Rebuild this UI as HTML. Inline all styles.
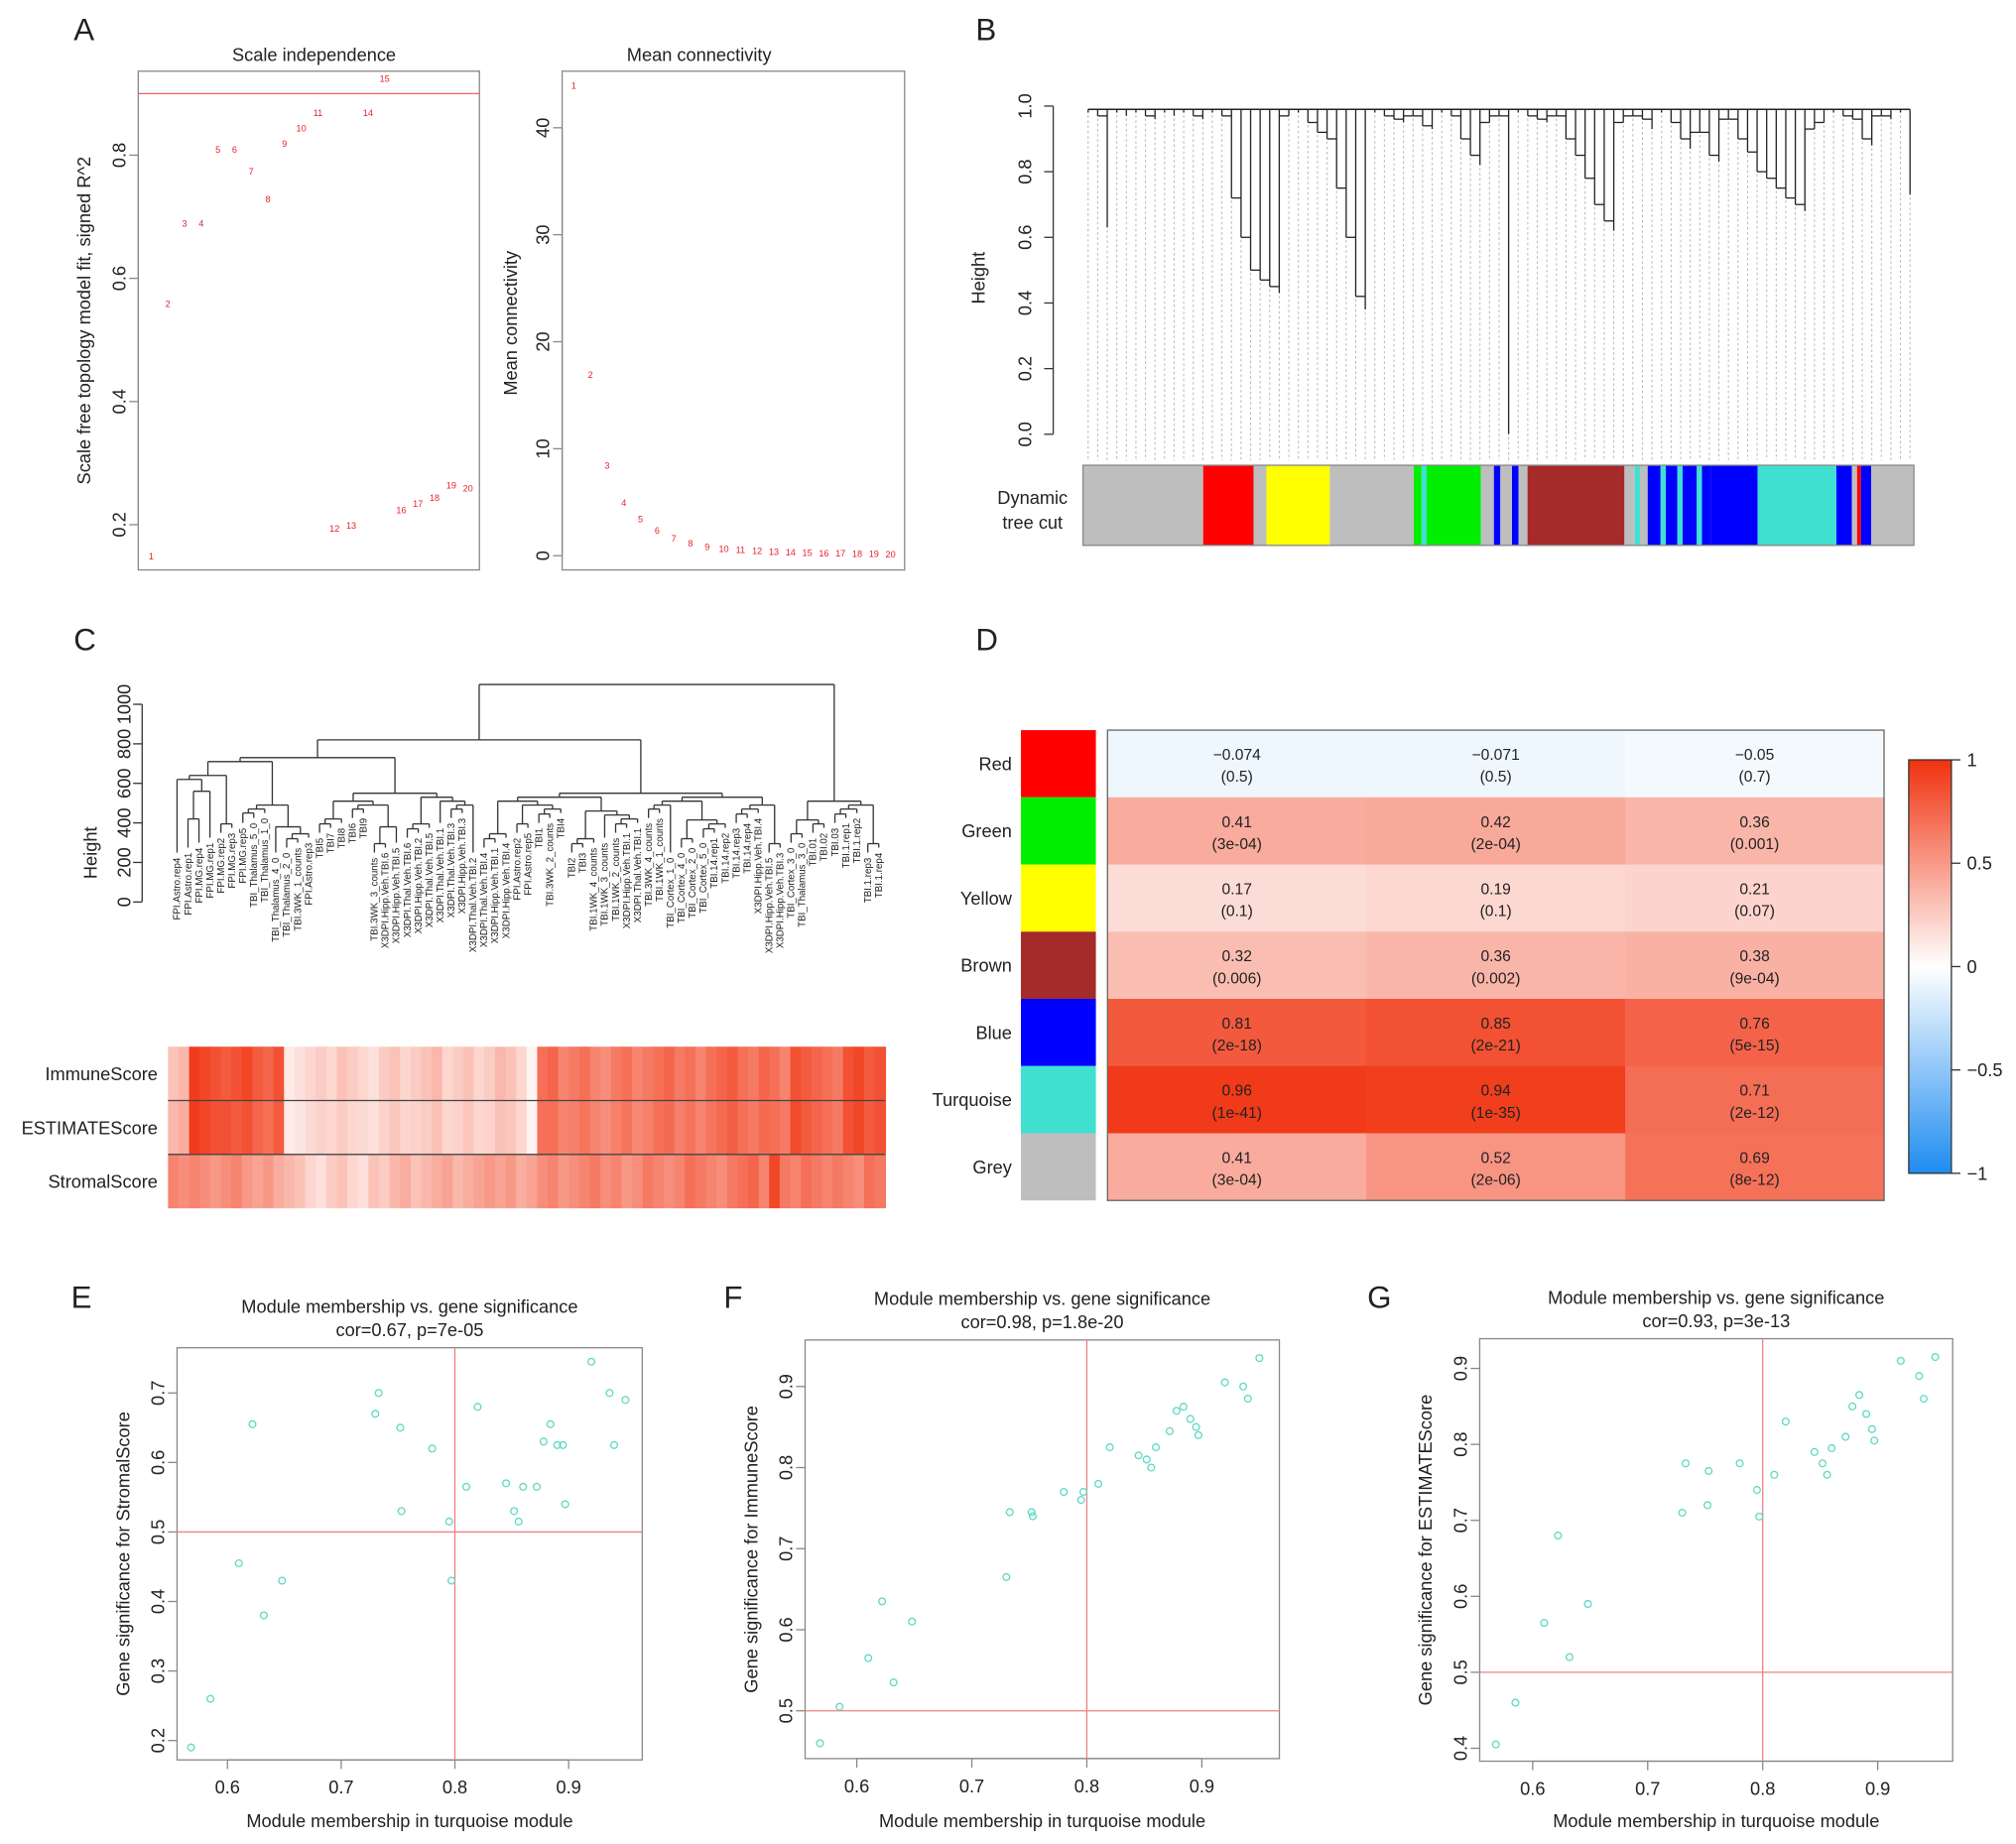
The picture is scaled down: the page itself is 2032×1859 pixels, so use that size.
<!DOCTYPE html>
<html><head><meta charset="utf-8">
<style>
html,body{margin:0;padding:0;background:#fff;}
svg{display:block;}
text{font-family:"Liberation Sans",sans-serif;fill:#222;}
</style></head>
<body>
<svg id="fig" width="2032" height="1859" viewBox="0 0 1560 1427" xmlns="http://www.w3.org/2000/svg">
<g id="root"></g>
</svg>
<script>
// ---------- DATA ----------
const powers = [1,2,3,4,5,6,7,8,9,10,11,12,13,14,15,16,17,18,19,20];
const scaleFitR2 = [0.15,0.56,0.69,0.69,0.81,0.81,0.775,0.73,0.82,0.845,0.87,0.195,0.2,0.87,0.925,0.225,0.235,0.245,0.265,0.26];
const meanConn = [44,17,8.5,5,3.5,2.4,1.7,1.2,0.9,0.7,0.6,0.5,0.45,0.4,0.35,0.3,0.3,0.25,0.25,0.2];
const scaleTicks = [0.2,0.4,0.6,0.8];
const connTicks = [0,10,20,30,40];

const moduleNames = ["Red","Green","Yellow","Brown","Blue","Turquoise","Grey"];
const moduleColors = ["#ff0000","#00ee00","#ffff00","#a52a2a","#0000ff","#40e0d0","#bebebe"];
const corImmune = [-0.074,0.41,0.17,0.32,0.81,0.96,0.41];
const corEstimate = [-0.071,0.42,0.19,0.36,0.85,0.94,0.52];
const corStromal = [-0.05,0.36,0.21,0.38,0.76,0.71,0.69];
const pImmune = ["(0.5)","(3e-04)","(0.1)","(0.006)","(2e-18)","(1e-41)","(3e-04)"];
const pEstimate = ["(0.5)","(2e-04)","(0.1)","(0.002)","(2e-21)","(1e-35)","(2e-06)"];
const pStromal = ["(0.7)","(0.001)","(0.07)","(9e-04)","(5e-15)","(2e-12)","(8e-12)"];
const legendTicks = [1,0.5,0,-0.5,-1];

const immuneRow = [0.3,0.35,0.95,0.9,0.85,0.8,0.85,0.9,0.8,0.75,0.85,0.1,0.15,0.2,0.25,0.2,0.3,0.25,0.2,0.15,0.25,0.3,0.2,0.25,0.3,0.35,0.2,0.25,0.3,0.2,0.25,0.35,0.3,0.2,0.05,0.7,0.75,0.6,0.65,0.7,0.6,0.55,0.65,0.7,0.6,0.65,0.7,0.75,0.65,0.7,0.6,0.7,0.75,0.8,0.7,0.65,0.75,0.7,0.6,0.85,0.8,0.75,0.7,0.65,0.85,0.9,0.8,0.85];
const estimateRow = [0.35,0.4,0.95,0.9,0.85,0.85,0.8,0.85,0.75,0.7,0.8,0.1,0.12,0.18,0.22,0.2,0.25,0.2,0.18,0.15,0.22,0.28,0.2,0.22,0.25,0.3,0.2,0.22,0.28,0.2,0.22,0.3,0.28,0.2,0.05,0.7,0.7,0.6,0.62,0.68,0.6,0.55,0.62,0.68,0.58,0.62,0.7,0.72,0.62,0.68,0.6,0.68,0.72,0.78,0.7,0.65,0.72,0.7,0.65,0.88,0.8,0.75,0.7,0.65,0.85,0.9,0.8,0.85];
const stromalRow = [0.6,0.55,0.6,0.55,0.5,0.55,0.6,0.5,0.45,0.5,0.4,0.35,0.3,0.2,0.15,0.25,0.3,0.2,0.15,0.3,0.25,0.35,0.4,0.3,0.35,0.4,0.45,0.35,0.4,0.45,0.5,0.45,0.5,0.4,0.45,0.55,0.6,0.5,0.55,0.6,0.65,0.55,0.6,0.5,0.55,0.65,0.6,0.55,0.6,0.7,0.65,0.6,0.55,0.65,0.7,0.75,0.6,0.9,0.65,0.6,0.7,0.65,0.6,0.65,0.6,0.55,0.7,0.65];

const membership = [0.568,0.585,0.61,0.622,0.632,0.648,0.73,0.733,0.752,0.753,0.78,0.795,0.797,0.81,0.82,0.845,0.852,0.856,0.86,0.872,0.878,0.884,0.89,0.895,0.897,0.92,0.936,0.94,0.95];
const gsStromal = [0.19,0.26,0.455,0.655,0.38,0.43,0.67,0.70,0.65,0.53,0.62,0.515,0.43,0.565,0.68,0.57,0.53,0.515,0.565,0.565,0.63,0.655,0.625,0.625,0.54,0.745,0.70,0.625,0.69];
const gsImmune = [0.46,0.505,0.565,0.635,0.535,0.61,0.665,0.745,0.745,0.74,0.77,0.76,0.77,0.78,0.825,0.815,0.81,0.80,0.825,0.845,0.87,0.875,0.86,0.85,0.84,0.905,0.90,0.885,0.935];
const gsEstimate = [0.405,0.46,0.565,0.68,0.52,0.59,0.71,0.775,0.72,0.765,0.775,0.74,0.705,0.76,0.83,0.79,0.775,0.76,0.795,0.81,0.85,0.865,0.84,0.82,0.805,0.91,0.89,0.86,0.915];

const geneLeafHeights = [0.98,0.97,0.63,0.98,0.97,0.98,0.97,0.96,0.98,0.97,0.98,0.97,0.96,0.98,0.97,0.72,0.6,0.5,0.47,0.45,0.43,0.97,0.98,0.95,0.92,0.9,0.75,0.6,0.42,0.38,0.98,0.97,0.96,0.95,0.97,0.94,0.93,0.98,0.97,0.9,0.85,0.82,0.95,0.97,0.0,0.98,0.97,0.96,0.95,0.97,0.9,0.85,0.78,0.7,0.65,0.62,0.95,0.97,0.96,0.93,0.98,0.95,0.9,0.87,0.92,0.85,0.83,0.96,0.9,0.86,0.8,0.78,0.75,0.72,0.7,0.68,0.93,0.95,0.98,0.97,0.96,0.9,0.88,0.97,0.96,0.98,0.73];
const treeCutSegments = [["#bebebe",838,931],["#ff0000",931,970],["#bebebe",970,980],["#ffff00",980,1029],["#bebebe",1029,1094],["#00ee00",1094,1100],["#40e0d0",1100,1104],["#00ee00",1104,1146],["#bebebe",1146,1156],["#0000ff",1156,1161],["#bebebe",1161,1170],["#0000ff",1170,1175],["#bebebe",1175,1182],["#a52a2a",1182,1257],["#bebebe",1257,1265],["#40e0d0",1265,1269],["#bebebe",1269,1275],["#0000ff",1275,1285],["#40e0d0",1285,1289],["#0000ff",1289,1298],["#40e0d0",1298,1302],["#0000ff",1302,1313],["#40e0d0",1313,1317],["#0000ff",1317,1324],["#0000ff",1324,1360],["#40e0d0",1360,1421],["#0000ff",1421,1433],["#bebebe",1433,1437],["#ff0000",1437,1440],["#0000ff",1440,1448],["#bebebe",1448,1481]];

const sampleLabels = ["FPI.Astro.rep4","FPI.Astro.rep1","FPI.MG.rep4","FPI.MG.rep1","FPI.MG.rep2","FPI.MG.rep3","FPI.MG.rep5","TBI_Thalamus_5_0","TBI_Thalamus_1_0","TBI_Thalamus_4_0","TBI_Thalamus_2_0","TBI.3WK_1_counts","FPI.Astro.rep3","TBI5","TBI7","TBI8","TBI6","TBI9","TBI.3WK_3_counts","X3DPI.Hipp.Veh.TBI.6","X3DPI.Hipp.Veh.TBI.5","X3DPI.Thal.Veh.TBI.6","X3DPI.Hipp.Veh.TBI.2","X3DPI.Thal.Veh.TBI.5","X3DPI.Thal.Veh.TBI.1","X3DPI.Thal.Veh.TBI.3","X3DPI.Hipp.Veh.TBI.3","X3DPI.Thal.Veh.TBI.2","X3DPI.Thal.Veh.TBI.4","X3DPI.Hipp.Veh.TBI.1","X3DPI.Hipp.Veh.TBI.4","FPI.Astro.rep2","FPI.Astro.rep5","TBI1","TBI.3WK_2_counts","TBI4","TBI2","TBI3","TBI.1WK_4_counts","TBI.1WK_3_counts","TBI.1WK_2_counts","X3DPI.Hipp.Veh.TBI.1","X3DPI.Thal.Veh.TBI.1","TBI.3WK_4_counts","TBI.1WK_1_counts","TBI_Cortex_1_0","TBI_Cortex_4_0","TBI_Cortex_2_0","TBI_Cortex_5_0","TBI.14.rep1","TBI.14.rep2","TBI.14.rep3","TBI.14.rep4","X3DPI.Hipp.Veh.TBI.4","X3DPI.Hipp.Veh.TBI.5","X3DPI.Hipp.Veh.TBI.3","TBI_Cortex_3_0","TBI_Thalamus_3_0","TBI.01","TBI.02","TBI.03","TBI.1.rep1","TBI.1.rep2","TBI.1.rep3","TBI.1.rep4"];
const sampleMergeHeights = [1100,820,580,710,500,620,560,420,360,300,260,450,380,330,280,520,400,350,300,470,420,380];

// ---------- HELPERS ----------
const NS = "http://www.w3.org/2000/svg";
const root = document.getElementById('root');
function mk(tag, attrs, parent, txt){
  const e = document.createElementNS(NS, tag);
  for (const k in attrs) e.setAttribute(k, attrs[k]);
  if (txt !== undefined) e.textContent = txt;
  (parent || root).appendChild(e);
  return e;
}
function grp(name){
  const g = document.createElementNS(NS,'g');
  
  
  root.appendChild(g);
  return g;
}
function vtext(g, x, y, s, size, anchor){
  return mk('text',{x:0,y:0,transform:`translate(${x},${y}) rotate(-90)`,'font-size':size,'text-anchor':anchor||'middle'},g,s);
}
function heatRed(v){
  if (v >= 0){
    const r = Math.round(255 - v*15), gg = Math.round(255 - v*205), b = Math.round(255 - v*240);
    return `rgb(${r},${gg},${b})`;
  }
  const a = -v;
  return `rgb(${Math.round(255-a*225)},${Math.round(255-a*115)},${Math.round(255-a*15)})`;
}

// ---------- PANEL LETTERS ----------
const letters = grp('panel-letters');
[["A",57,31],["B",755,31],["C",57,503],["D",755,503],["E",55,1012],["F",560,1012],["G",1058,1012]].forEach(l=>{
  const t = mk('text',{x:l[1],y:l[2],'font-size':24},letters,l[0]);
  
  
});

// ---------- PANEL A ----------
(function(){
  const g = grp('panel-a-scale-independence');
  const x = p => 117 + (p-1)*12.9;
  const y = v => 406 - (v-0.2)/0.6*286;
  mk('rect',{x:107,y:55,width:264,height:386,fill:'none',stroke:'#888','stroke-width':1},g);
  mk('text',{x:243,y:47,'font-size':14,'text-anchor':'middle'},g,'Scale independence');
  mk('line',{x1:107,x2:371,y1:y(0.9),y2:y(0.9),stroke:'#f06060','stroke-width':1},g);
  scaleTicks.forEach(t=>{
    mk('line',{x1:100,x2:107,y1:y(t),y2:y(t),stroke:'#888'},g);
    vtext(g,97,y(t),t.toFixed(1),14);
  });
  mk('line',{x1:107,x2:107,y1:y(0.2),y2:y(0.8),stroke:'#888'},g);
  vtext(g,70,248,'Scale free topology model fit, signed R^2',14);
  powers.forEach((p,i)=>{
    const t = mk('text',{x:x(p),y:y(scaleFitR2[i])+3,'font-size':7,'text-anchor':'middle',style:'fill:#e8202a'},g,String(p));
    
    
  });

  const g2 = grp('panel-a-mean-connectivity');
  const y2 = v => 430 - v*8.28;
  const x2 = p => 444 + (p-1)*12.9;
  mk('rect',{x:435,y:55,width:265,height:386,fill:'none',stroke:'#888'},g2);
  mk('text',{x:541,y:47,'font-size':14,'text-anchor':'middle'},g2,'Mean connectivity');
  connTicks.forEach(t=>{
    mk('line',{x1:428,x2:435,y1:y2(t),y2:y2(t),stroke:'#888'},g2);
    vtext(g2,425,y2(t),String(t),14);
  });
  mk('line',{x1:435,x2:435,y1:y2(0),y2:y2(40),stroke:'#888'},g2);
  vtext(g2,400,250,'Mean connectivity',14);
  powers.forEach((p,i)=>{
    const t = mk('text',{x:x2(p),y:y2(meanConn[i])+3,'font-size':7,'text-anchor':'middle',style:'fill:#e8202a'},g2,String(p));
    
    
  });
})();

// ---------- PANEL B ----------
(function(){
  const g = grp('panel-b-gene-dendrogram');
  const y = v => 336 - v*254;
  [0,0.2,0.4,0.6,0.8,1.0].forEach(t=>{
    mk('line',{x1:808,x2:815,y1:y(t),y2:y(t),stroke:'#333'},g);
    vtext(g,798,y(t),t.toFixed(1),14);
  });
  mk('line',{x1:815,x2:815,y1:y(0),y2:y(1),stroke:'#333'},g);
  vtext(g,762,215,'Height',14);
  const n = geneLeafHeights.length;
  const x = i => 842 + i*(636/(n-1));
  const top = 0.99;
  mk('line',{x1:x(0),x2:x(n-1),y1:y(top),y2:y(top),stroke:'#222','stroke-width':1.2},g);
  geneLeafHeights.forEach((h,i)=>{
    mk('line',{x1:x(i),x2:x(i),y1:y(h)+2,y2:356,stroke:'#bbb','stroke-width':0.8,'stroke-dasharray':'2,2'},g);
    const l = mk('line',{x1:x(i),x2:x(i),y1:y(top),y2:y(h),stroke:'#222','stroke-width':1},g);
    
    
    if (i>0){
      const hh = Math.max(h, geneLeafHeights[i-1]);
      if (hh < top-0.01) mk('line',{x1:x(i-1),x2:x(i),y1:y(hh),y2:y(hh),stroke:'#222','stroke-width':1},g);
    }
  });
  const cb = grp('dynamic-tree-cut-bar');
  treeCutSegments.forEach(s=>{
    const r = mk('rect',{x:s[1],y:360,width:s[2]-s[1],height:62,fill:s[0]},cb);
    
    
  });
  mk('rect',{x:838,y:360,width:643,height:62,fill:'none',stroke:'#888'},cb);
  mk('text',{x:799,y:390,'font-size':14,'text-anchor':'middle'},cb,'Dynamic');
  mk('text',{x:799,y:409,'font-size':14,'text-anchor':'middle'},cb,'tree cut');
})();

// ---------- PANEL C ----------
(function(){
  const g = grp('panel-c-sample-dendrogram');
  const y = v => 698 - v*0.153;
  [0,200,400,600,800,1000].forEach(t=>{
    mk('line',{x1:103,x2:110,y1:y(t),y2:y(t),stroke:'#333'},g);
    vtext(g,101,y(t),String(t),14);
  });
  mk('line',{x1:110,x2:110,y1:y(0),y2:y(1000),stroke:'#333'},g);
  vtext(g,75,660,'Height',14);
  const n = sampleLabels.length;
  const x = i => 137 + i*(543/(n-1));
  let mi = 0;
  function build(lo,hi,depth){
    if (hi === lo){
      const h = 250 + ((lo*37)%9)*25;
      return {x:x(lo),h:h,leaf:lo};
    }
    let h = sampleMergeHeights[mi] !== undefined ? sampleMergeHeights[mi] : Math.max(120, 380 - depth*45 - ((lo*13)%5)*15);
    mi++;
    let mid;
    if (depth===0) mid = hi-9; else mid = Math.floor((lo+hi)/2 + ((lo*7+hi)%3) - 1);
    mid = Math.min(Math.max(mid,lo),hi-1);
    const L = build(lo,mid,depth+1), R = build(mid+1,hi,depth+1);
    h = Math.max(h, L.h+20, R.h+20);
    mk('line',{x1:L.x,x2:L.x,y1:y(L.h),y2:y(h),stroke:'#333'},g);
    mk('line',{x1:R.x,x2:R.x,y1:y(R.h),y2:y(h),stroke:'#333'},g);
    mk('line',{x1:L.x,x2:R.x,y1:y(h),y2:y(h),stroke:'#333'},g);
    return {x:(L.x+R.x)/2,h:h};
  }
  build(0,n-1,0);
  sampleLabels.forEach((s,i)=>{
    const h = 250 + ((i*37)%9)*25;
    const t = vtext(g,x(i)+2.5,y(h)+4,s,7.5,'end');
    
    
  });

  const hm = grp('panel-c-trait-heatmap');
  const rows = [["ImmuneScore",immuneRow],["ESTIMATEScore",estimateRow],["StromalScore",stromalRow]];
  const cw = 555/immuneRow.length;
  rows.forEach((r,ri)=>{
    const y0 = 810 + ri*41.7;
    r[1].forEach((v,ci)=>{
      const c = mk('rect',{x:130+ci*cw,y:y0,width:cw+0.6,height:41.7,fill:heatRed(v)},hm);
      
      
    });
    mk('text',{x:122,y:y0+26,'font-size':14,'text-anchor':'end'},hm,r[0]);
    if (ri>0) mk('line',{x1:130,x2:685,y1:y0,y2:y0,stroke:'#444','stroke-width':1},hm);
  });
})();

// ---------- PANEL D ----------
(function(){
  const g = grp('panel-d-module-trait-heatmap');
  const rh = 52, y0 = 565, x0 = 857, cw = 200.3;
  const cols = [[corImmune,pImmune],[corEstimate,pEstimate],[corStromal,pStromal]];
  moduleNames.forEach((m,i)=>{
    const sw = mk('rect',{x:790,y:y0+i*rh,width:58,height:rh,fill:moduleColors[i]},g);
    
    
    mk('text',{x:783,y:y0+i*rh+31,'font-size':14,'text-anchor':'end'},g,m);
    cols.forEach((c,ci)=>{
      const cell = mk('rect',{x:x0+ci*cw,y:y0+i*rh,width:cw+0.5,height:rh+0.5,fill:heatRed(c[0][i])},g);
      
      
      const cx = x0+ci*cw+cw/2;
      mk('text',{x:cx,y:y0+i*rh+23,'font-size':12,'text-anchor':'middle'},g,String(c[0][i]).replace('-','\u2212'));
      mk('text',{x:cx,y:y0+i*rh+40,'font-size':12,'text-anchor':'middle'},g,c[1][i]);
    });
  });
  mk('rect',{x:x0,y:y0,width:cw*3,height:rh*7,fill:'none',stroke:'#666'},g);
  const lg = grp('panel-d-color-legend');
  const defs = mk('defs',{},lg);
  const grad = mk('linearGradient',{id:'cbar',x1:0,y1:0,x2:0,y2:1},defs);
  [[0,1],[0.25,0.5],[0.5,0],[0.75,-0.5],[1,-1]].forEach(s=>mk('stop',{offset:s[0],'stop-color':heatRed(s[1])},grad));
  const ly = v => 748 - v*160;
  mk('rect',{x:1477,y:ly(1),width:33,height:320,fill:'url(#cbar)',stroke:'#333'},lg);
  legendTicks.forEach(t=>{
    mk('line',{x1:1510,x2:1517,y1:ly(t),y2:ly(t),stroke:'#333'},lg);
    mk('text',{x:1522,y:ly(t)+5,'font-size':14},lg,String(t).replace('-','\u2212'));
  });
})();

// ---------- PANELS E/F/G ----------
function scatter(name, box, xr, yr, yTicks, ys, title2, yLabel){
  const g = grp(name);
  const x = v => xr[0] + (v-0.6)*(xr[1]-xr[0])/0.3;
  const y = v => yr[0] - (v-yr[2])*(yr[0]-yr[1])/(yr[3]-yr[2]);
  mk('rect',{x:box[0],y:box[1],width:box[2]-box[0],height:box[3]-box[1],fill:'none',stroke:'#888'},g);
  const cx = (box[0]+box[2])/2;
  mk('text',{x:cx,y:box[1]-27,'font-size':14,'text-anchor':'middle'},g,'Module membership vs. gene significance');
  mk('text',{x:cx,y:box[1]-9,'font-size':14,'text-anchor':'middle'},g,title2);
  [0.6,0.7,0.8,0.9].forEach(t=>{
    mk('line',{x1:x(t),x2:x(t),y1:box[3],y2:box[3]+7,stroke:'#888'},g);
    mk('text',{x:x(t),y:box[3]+26,'font-size':14,'text-anchor':'middle'},g,t.toFixed(1));
  });
  mk('line',{x1:x(0.6),x2:x(0.9),y1:box[3],y2:box[3],stroke:'#888'},g);
  yTicks.forEach(t=>{
    mk('line',{x1:box[0]-7,x2:box[0],y1:y(t),y2:y(t),stroke:'#888'},g);
    vtext(g,box[0]-10,y(t),t.toFixed(1),14);
  });
  mk('text',{x:cx,y:1414,'font-size':14,'text-anchor':'middle'},g,'Module membership in turquoise module');
  vtext(g,box[0]-37,(box[1]+box[3])/2,yLabel,14);
  mk('line',{x1:x(0.8),x2:x(0.8),y1:box[1],y2:box[3],stroke:'#f08080'},g);
  mk('line',{x1:box[0],x2:box[2],y1:y(0.5),y2:y(0.5),stroke:'#f08080'},g);
  membership.forEach((m,i)=>{
    const c = mk('circle',{cx:x(m),cy:y(ys[i]),r:2.6,fill:'none',stroke:'#5fd8c4','stroke-width':1},g);
    
    
  });
}
scatter('panel-e-stromal-scatter',[137,1043,497,1362],[176,440],[1347,1078,0.2,0.7],[0.2,0.3,0.4,0.5,0.6,0.7],gsStromal,'cor=0.67, p=7e-05','Gene significance for StromalScore');
scatter('panel-f-immune-scatter',[623,1037,990,1361],[663,930],[1324,1073,0.5,0.9],[0.5,0.6,0.7,0.8,0.9],gsImmune,'cor=0.98, p=1.8e-20','Gene significance for ImmuneScore');
scatter('panel-g-estimate-scatter',[1145,1036,1511,1363],[1186,1453],[1353,1059,0.4,0.9],[0.4,0.5,0.6,0.7,0.8,0.9],gsEstimate,'cor=0.93, p=3e-13','Gene significance for ESTIMATEScore');
</script>
</body></html>
